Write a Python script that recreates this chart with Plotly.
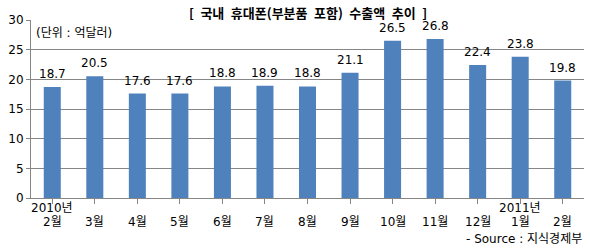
import plotly.graph_objects as go

months = ["2월", "3월", "4월", "5월", "6월", "7월", "8월", "9월", "10월", "11월", "12월", "1월", "2월"]
years = ["2010년", "", "", "", "", "", "", "", "", "", "", "2011년", ""]
values = [18.7, 20.5, 17.6, 17.6, 18.8, 18.9, 18.8, 21.1, 26.5, 26.8, 22.4, 23.8, 19.8]
yticks = [0, 5, 10, 15, 20, 25, 30]

FONT = "DejaVu Sans, Noto Sans CJK KR"
KFONT = "Noto Sans CJK KR"
xs = list(range(len(values)))

fig = go.Figure(go.Bar(
    x=xs, y=values,
    marker=dict(color="#4F81BD", line=dict(width=0)),
))

annotations = []
for i, v in enumerate(values):
    annotations.append(dict(x=xs[i], y=v, xref="x", yref="y", text=f"{v:.1f}",
                            showarrow=False, xanchor="center", yanchor="middle", yshift=13,
                            font=dict(family=FONT, size=12, color="#000000")))
for i, (m, yr) in enumerate(zip(months, years)):
    annotations.append(dict(x=xs[i], y=0, xref="x", yref="paper", text=m,
                            showarrow=False, xanchor="center", yanchor="middle", yshift=-24,
                            font=dict(family=FONT, size=12, color="#000000")))
    if yr:
        annotations.append(dict(x=xs[i], y=0, xref="x", yref="paper", text=yr,
                                showarrow=False, xanchor="center", yanchor="middle", yshift=-10,
                                font=dict(family=FONT, size=12, color="#000000")))

annotations += [
    dict(text="<b>[\u2002국내\u2002휴대폰(부분품\u2002포함)\u2002수출액\u2002추이\u2002]</b>", xref="paper", yref="paper",
         x=0.5, y=1.0, xanchor="center", yanchor="middle", showarrow=False, yshift=8,
         font=dict(family=KFONT, size=13)),
    dict(text="(단위 : 억달러)", xref="paper", yref="paper",
         x=0.005, y=0.927, xanchor="left", yanchor="middle", showarrow=False,
         font=dict(family=FONT, size=12)),
    dict(text="- Source : 지식경제부", xref="paper", yref="paper",
         x=1.0, y=0, xanchor="right", yanchor="middle", showarrow=False, yshift=-41,
         font=dict(family=FONT, size=12)),
]

fig.update_layout(
    width=590, height=249,
    margin=dict(l=31, r=6, t=20, b=51),
    paper_bgcolor="white", plot_bgcolor="white",
    bargap=0.6,
    showlegend=False,
    font=dict(family=FONT, size=12, color="#000000"),
    xaxis=dict(
        tickvals=xs, showticklabels=False,
        range=[-0.5, len(values) - 0.5],
        tickson="boundaries", ticks="outside", ticklen=5, tickcolor="#868686",
        showline=True, linecolor="#868686", linewidth=1,
        showgrid=False,
    ),
    yaxis=dict(
        range=[0, 30], tickvals=yticks,
        ticks="outside", ticklen=4, tickcolor="#868686",
        showline=True, linecolor="#868686", linewidth=1,
        showgrid=True, gridcolor="#868686", gridwidth=1,
        zeroline=False,
        tickfont=dict(family=FONT, size=12),
    ),
    annotations=annotations,
)

fig.write_html("out.html")
